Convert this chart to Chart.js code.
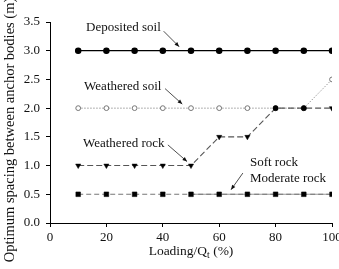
<!DOCTYPE html>
<html>
<head>
<meta charset="utf-8">
<script src="https://cdn.jsdelivr.net/npm/chart.js@4/dist/chart.umd.min.js"></script>
<style>
  html, body { margin: 0; padding: 0; background: #fff; }
  #wrap { width: 339px; height: 269px; }
</style>
</head>
<body>
<div id="wrap"><canvas id="chart" width="339" height="269"></canvas></div>
<script>
// values
const loading = [10, 20, 30, 40, 50, 60, 70, 80, 90, 100];
const depositedSoil = [3.0, 3.0, 3.0, 3.0, 3.0, 3.0, 3.0, 3.0, 3.0, 3.0];
const weatheredSoil = [2.0, 2.0, 2.0, 2.0, 2.0, 2.0, 2.0, 2.0, 2.0, 2.5];
const weatheredRock = [1.0, 1.0, 1.0, 1.0, 1.0, 1.5, 1.5, 2.0, 2.0, 2.0];
const softRock = [0.5, 0.5, 0.5, 0.5, 0.5, 0.5, 0.5, 0.5, 0.5, 0.5];
const moderateRock = [null, null, null, null, 0.5, 0.5, 0.5, 0.5, 0.5, 0.5];
const xTicks = [0, 20, 40, 60, 80, 100];
const yTicks = [0, 0.5, 1.0, 1.5, 2.0, 2.5, 3.0, 3.5];

const serif = "'Liberation Serif', 'Times New Roman', serif";

// text labels with leader arrows, in data units
const notes = [
  { text: ["Deposited soil"], x: 12.8, y: 3.40, from: [40.3, 3.34], to: [45.8, 3.07] },
  { text: ["Weathered soil"], x: 12.1, y: 2.37, from: [40.8, 2.34], to: [46.9, 2.07] },
  { text: ["Weathered rock"], x: 11.7, y: 1.39, from: [41.8, 1.36], to: [48.6, 1.07] },
  { text: ["Soft rock", "Moderate rock"], x: 70.9, y: 1.045, from: [68.4, 0.87], to: [64.2, 0.58] }
];

function pts(values) {
  return values.map((v, i) => ({ x: loading[i], y: v }));
}

const notesPlugin = {
  id: "notes",
  afterDraw(chart) {
    const { ctx, scales } = chart;
    const sx = scales.x, sy = scales.y;
    ctx.save();
    ctx.fillStyle = "#111";
    ctx.strokeStyle = "#222";
    ctx.font = "13px " + serif;
    ctx.textBaseline = "middle";
    ctx.textAlign = "left";
    notes.forEach((n) => {
      n.text.forEach((t, i) => {
        ctx.fillText(t, sx.getPixelForValue(n.x), sy.getPixelForValue(n.y) + i * 16);
      });
      const x1 = sx.getPixelForValue(n.from[0]), y1 = sy.getPixelForValue(n.from[1]);
      const x2 = sx.getPixelForValue(n.to[0]), y2 = sy.getPixelForValue(n.to[1]);
      ctx.lineWidth = 0.8;
      ctx.beginPath();
      ctx.moveTo(x1, y1);
      ctx.lineTo(x2, y2);
      ctx.stroke();
      const a = Math.atan2(y2 - y1, x2 - x1);
      ctx.beginPath();
      ctx.moveTo(x2, y2);
      ctx.lineTo(x2 - 5 * Math.cos(a - 0.4), y2 - 5 * Math.sin(a - 0.4));
      ctx.lineTo(x2 - 5 * Math.cos(a + 0.4), y2 - 5 * Math.sin(a + 0.4));
      ctx.closePath();
      ctx.fill();
    });

    // axis titles
    ctx.font = "13.5px " + serif;
    ctx.textAlign = "left";
    ctx.textBaseline = "alphabetic";
    const main = "Loading/Q";
    const sub = "t";
    const tail = " (%)";
    const w1 = ctx.measureText(main).width;
    const w3 = ctx.measureText(tail).width;
    ctx.font = "9.5px " + serif;
    const w2 = ctx.measureText(sub).width;
    const cx = (chart.chartArea.left + chart.chartArea.right) / 2;
    let x0 = cx - (w1 + w2 + w3) / 2;
    const base = 255;
    ctx.font = "13.5px " + serif;
    ctx.fillText(main, x0, base);
    ctx.font = "9.5px " + serif;
    ctx.fillText(sub, x0 + w1, base + 3);
    ctx.font = "13.5px " + serif;
    ctx.fillText(tail, x0 + w1 + w2, base);

    ctx.translate(10, 130);
    ctx.rotate(-Math.PI / 2);
    ctx.font = "14.5px " + serif;
    ctx.textAlign = "center";
    ctx.textBaseline = "middle";
    ctx.fillText("Optimum spacing between anchor bodies (m)", 0, 0);
    ctx.restore();
  }
};

new Chart(document.getElementById("chart"), {
  type: "line",
  data: {
    datasets: [
      {
        label: "Deposited soil",
        data: pts(depositedSoil),
        borderColor: "#000",
        borderWidth: 1.3,
        pointStyle: "circle",
        pointRadius: 2.6,
        pointBackgroundColor: "#000",
        pointBorderColor: "#000",
        order: 1
      },
      {
        label: "Weathered soil",
        data: pts(weatheredSoil),
        borderColor: "#9a9a9a",
        borderWidth: 1,
        borderDash: [1.5, 1.5],
        pointStyle: "circle",
        pointRadius: 2.4,
        pointBorderWidth: 1,
        pointBackgroundColor: "#fff",
        pointBorderColor: "#777",
        order: 3
      },
      {
        label: "Weathered rock",
        data: pts(weatheredRock),
        borderColor: "#555",
        borderWidth: 1.1,
        borderDash: [6, 3],
        pointStyle: ["triangle", "triangle", "triangle", "triangle", "triangle", "triangle", "triangle", "circle", "circle", "triangle"],
        pointRotation: 180,
        pointRadius: [3, 3, 3, 3, 3, 3, 3, 2.6, 2.6, 3],
        pointBackgroundColor: "#000",
        pointBorderColor: "#000",
        pointBorderWidth: 0.5,
        order: 2
      },
      {
        label: "Moderate rock",
        data: pts(moderateRock),
        borderColor: "#999",
        borderWidth: 1.1,
        pointRadius: 0,
        order: 5
      },
      {
        label: "Soft rock",
        data: pts(softRock),
        borderColor: "#777",
        borderWidth: 1.1,
        borderDash: [5, 3],
        pointStyle: "rect",
        pointRadius: 3.3,
        pointBackgroundColor: "#000",
        pointBorderColor: "#000",
        pointBorderWidth: 0.5,
        order: 4
      }
    ]
  },
  options: {
    responsive: false,
    animation: false,
    devicePixelRatio: 1,
    layout: { padding: { left: 0, right: 7, top: 22, bottom: 0 } },
    plugins: {
      legend: { display: false },
      tooltip: { enabled: false }
    },
    scales: {
      x: {
        type: "linear",
        min: 0,
        max: 100,
        afterBuildTicks: (s) => { s.ticks = xTicks.map((v) => ({ value: v })); },
        afterFit: (s) => { s.height = 46; s.paddingLeft = 0; s.paddingRight = 0; },
        grid: { drawOnChartArea: false, color: "#000", tickLength: 4 },
        border: { color: "#000", width: 1 },
        ticks: { color: "#111", padding: 3, font: { family: serif, size: 13 } }
      },
      y: {
        type: "linear",
        min: 0,
        max: 3.5,
        afterBuildTicks: (s) => { s.ticks = yTicks.map((v) => ({ value: v })); },
        afterFit: (s) => { s.width = 50; s.paddingTop = 0; s.paddingBottom = 0; },
        grid: { drawOnChartArea: false, color: "#000", tickLength: 4 },
        border: { color: "#000", width: 1 },
        ticks: {
          color: "#111",
          padding: 6,
          font: { family: serif, size: 13 },
          callback: (v) => v.toFixed(1)
        }
      }
    }
  },
  plugins: [notesPlugin]
});
</script>
</body>
</html>
